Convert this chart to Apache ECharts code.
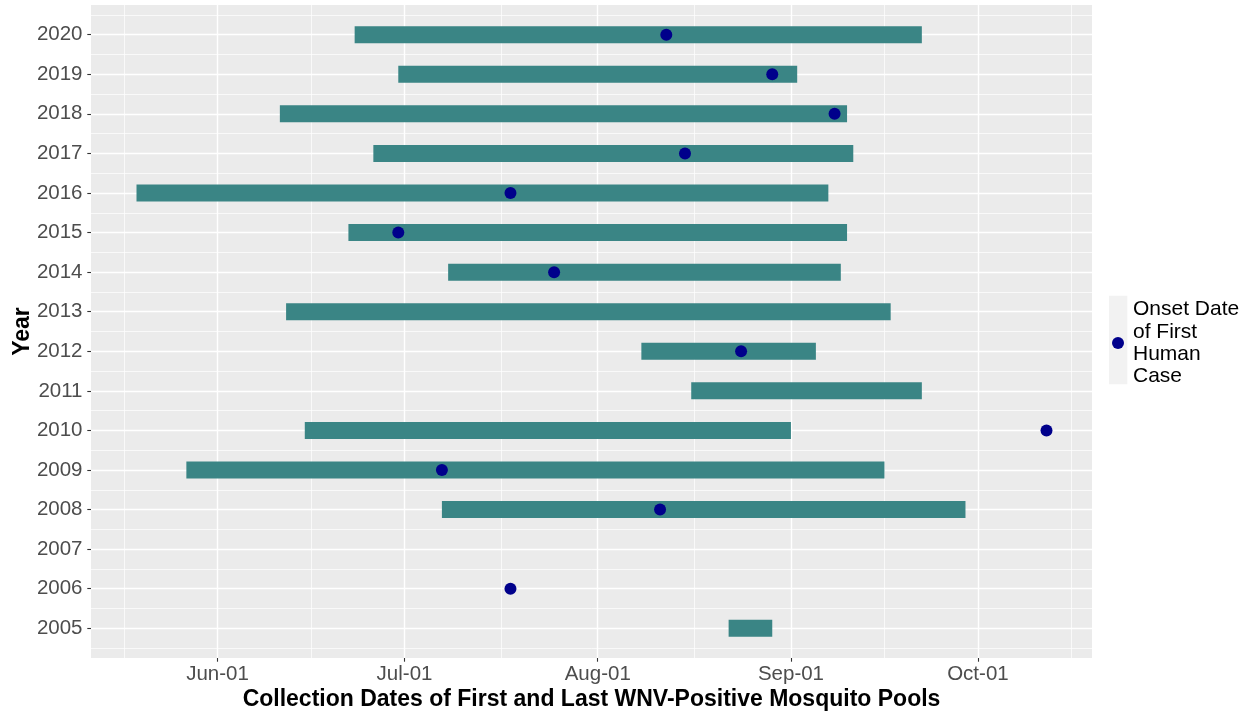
<!DOCTYPE html>
<html>
<head>
<meta charset="utf-8">
<title>WNV-Positive Mosquito Pools and First Human Case</title>
<script src="https://cdn.jsdelivr.net/npm/echarts@6/dist/echarts.min.js"></script>
<style>
  html, body { margin: 0; padding: 0; background: #ffffff; }
  #chart { width: 1252px; height: 713px; }
</style>
</head>
<body>
<div id="chart"></div>
<script>
// Season data, one entry per year (dates as MM-DD, null = none recorded)
const years = [2005, 2006, 2007, 2008, 2009, 2010, 2011, 2012, 2013, 2014, 2015, 2016, 2017, 2018, 2019, 2020];
const firstPositivePool = ['08-22', null, null, '07-07', '05-27', '06-15', '08-16', '08-08', '06-12', '07-08', '06-22', '05-19', '06-26', '06-11', '06-30', '06-23'];
const lastPositivePool  = ['08-29', null, null, '09-29', '09-16', '09-01', '09-22', '09-05', '09-17', '09-09', '09-10', '09-07', '09-11', '09-10', '09-02', '09-22'];
const firstHumanOnset   = [null, '07-18', null, '08-11', '07-07', '10-12', null, '08-24', null, '07-25', '06-30', '07-18', '08-15', '09-08', '08-29', '08-12'];

// Axis tick labels
const xTickLabels = ['Jun-01', 'Jul-01', 'Aug-01', 'Sep-01', 'Oct-01'];
const yTickLabels = years;

const legendName = 'Onset Date\nof First\nHuman\nCase';

const MONTHS = ['Jan', 'Feb', 'Mar', 'Apr', 'May', 'Jun', 'Jul', 'Aug', 'Sep', 'Oct', 'Nov', 'Dec'];
const CUM_DAYS = [0, 31, 59, 90, 120, 151, 181, 212, 243, 273, 304, 334];

// Day of year (non-leap calendar) from "MM-DD"
function dayOfYear(mmdd) {
  const [m, d] = mmdd.split('-').map(Number);
  return CUM_DAYS[m - 1] + d;
}
// Day of year from "Mon-DD"
function labelDay(lbl) {
  const [mon, d] = lbl.split('-');
  return CUM_DAYS[MONTHS.indexOf(mon)] + Number(d);
}
function dayLabel(day) {
  let m = 11;
  while (m > 0 && CUM_DAYS[m] >= day) m--;
  const d = day - CUM_DAYS[m];
  return MONTHS[m] + '-' + String(d).padStart(2, '0');
}

const segments = [];
const onsets = [];
years.forEach((y, i) => {
  if (firstPositivePool[i] && lastPositivePool[i]) {
    segments.push([dayOfYear(firstPositivePool[i]), dayOfYear(lastPositivePool[i]), y]);
  }
  if (firstHumanOnset[i]) {
    onsets.push([dayOfYear(firstHumanOnset[i]), y]);
  }
});

// Continuous scale limits with 5% padding on each side
const allDays = segments.flatMap(s => [s[0], s[1]]).concat(onsets.map(o => o[0]));
const dMin = Math.min(...allDays), dMax = Math.max(...allDays);
const xPad = (dMax - dMin) * 0.05;
const xMin = dMin - xPad, xMax = dMax + xPad;
const yPad = (years[years.length - 1] - years[0]) * 0.05;
const yMin = years[0] - yPad, yMax = years[years.length - 1] + yPad;

const xMajor = xTickLabels.map(labelDay);
const xMinor = [];
xMinor.push(xMajor[0] - (xMajor[1] - xMajor[0]) / 2);
for (let i = 0; i < xMajor.length - 1; i++) xMinor.push((xMajor[i] + xMajor[i + 1]) / 2);
xMinor.push(xMajor[xMajor.length - 1] + (xMajor[xMajor.length - 1] - xMajor[xMajor.length - 2]) / 2);

const yMajor = yTickLabels.slice();
const yMinor = [yMajor[0] - 0.5].concat(yMajor.map(v => v + 0.5));

const FONT = '"Liberation Sans", Arial, Helvetica, sans-serif';
const BAR_COLOR = '#3A8585';
const DOT_COLOR = '#00008B';
const BAR_HEIGHT = 17;

const chart = echarts.init(document.getElementById('chart'), null, { renderer: 'canvas' });

const hiddenAxisParts = {
  axisLine: { show: false },
  axisLabel: { show: false },
};

chart.setOption({
  animation: false,
  backgroundColor: '#ffffff',
  textStyle: { fontFamily: FONT },
  grid: {
    left: 91, right: 160, top: 5, bottom: 55,
    outerBoundsMode: 'none',
    containLabel: false,
    show: true, backgroundColor: '#EBEBEB', borderWidth: 0
  },
  legend: {
    left: 1112, top: 296, padding: 0,
    orient: 'vertical',
    itemWidth: 12, itemHeight: 12,
    data: [{ name: legendName, icon: 'circle' }],
    textStyle: {
      fontFamily: FONT, fontSize: 21, lineHeight: 22.3, color: '#000000',
      padding: [5, 0, 0, 4]
    },
    selectedMode: false
  },
  graphic: [{
    type: 'rect', z: -1, silent: true,
    shape: { x: 1109, y: 295.7, width: 18.3, height: 88.6 },
    style: { fill: '#F2F2F2' }
  }],
  xAxis: [{
    type: 'value', min: xMin, max: xMax,
    axisLine: { show: false },
    axisTick: {
      show: true, length: 3.7, customValues: xMajor,
      lineStyle: { color: '#333333', width: 1.1 }
    },
    axisLabel: {
      customValues: xMajor, margin: 6,
      fontFamily: FONT, fontSize: 20.5, color: '#4D4D4D',
      formatter: v => dayLabel(Math.round(v))
    },
    splitLine: { show: true, lineStyle: { color: '#FFFFFF', width: 1.4 } },
    name: 'Collection Dates of First and Last WNV-Positive Mosquito Pools',
    nameLocation: 'middle', nameGap: 30, nameMoveOverlap: false,
    nameTextStyle: { fontFamily: FONT, fontSize: 23, fontWeight: 'bold', color: '#000000' }
  }, {
    type: 'value', min: xMin, max: xMax, position: 'top',
    ...hiddenAxisParts,
    axisTick: { show: false, customValues: xMinor },
    splitLine: { show: true, lineStyle: { color: '#FFFFFF', width: 0.7 } }
  }],
  yAxis: [{
    type: 'value', min: yMin, max: yMax,
    axisLine: { show: false },
    axisTick: {
      show: true, length: 3.7, customValues: yMajor,
      lineStyle: { color: '#333333', width: 1.1 }
    },
    axisLabel: {
      customValues: yMajor, margin: 8.5,
      fontFamily: FONT, fontSize: 20.5, color: '#4D4D4D',
      formatter: v => String(Math.round(v))
    },
    splitLine: { show: true, lineStyle: { color: '#FFFFFF', width: 1.4 } },
    name: 'Year',
    nameLocation: 'middle', nameGap: 57, nameMoveOverlap: false,
    nameTextStyle: { fontFamily: FONT, fontSize: 23, fontWeight: 'bold', color: '#000000' }
  }, {
    type: 'value', min: yMin, max: yMax, position: 'right',
    ...hiddenAxisParts,
    axisTick: { show: false, customValues: yMinor },
    splitLine: { show: true, lineStyle: { color: '#FFFFFF', width: 0.7 } }
  }],
  series: [{
    type: 'custom',
    name: 'Positive pools',
    xAxisIndex: 0, yAxisIndex: 0,
    data: segments,
    encode: { x: [0, 1], y: 2 },
    renderItem: (params, api) => {
      const y = api.value(2);
      const p0 = api.coord([api.value(0), y]);
      const p1 = api.coord([api.value(1), y]);
      return {
        type: 'rect',
        shape: { x: p0[0], y: p0[1] - BAR_HEIGHT / 2, width: p1[0] - p0[0], height: BAR_HEIGHT },
        style: { fill: BAR_COLOR }
      };
    },
    z: 2
  }, {
    type: 'scatter',
    name: legendName,
    xAxisIndex: 0, yAxisIndex: 0,
    data: onsets,
    symbol: 'circle',
    symbolSize: 12,
    itemStyle: { color: DOT_COLOR, opacity: 1 },
    z: 3
  }]
});
</script>
</body>
</html>
